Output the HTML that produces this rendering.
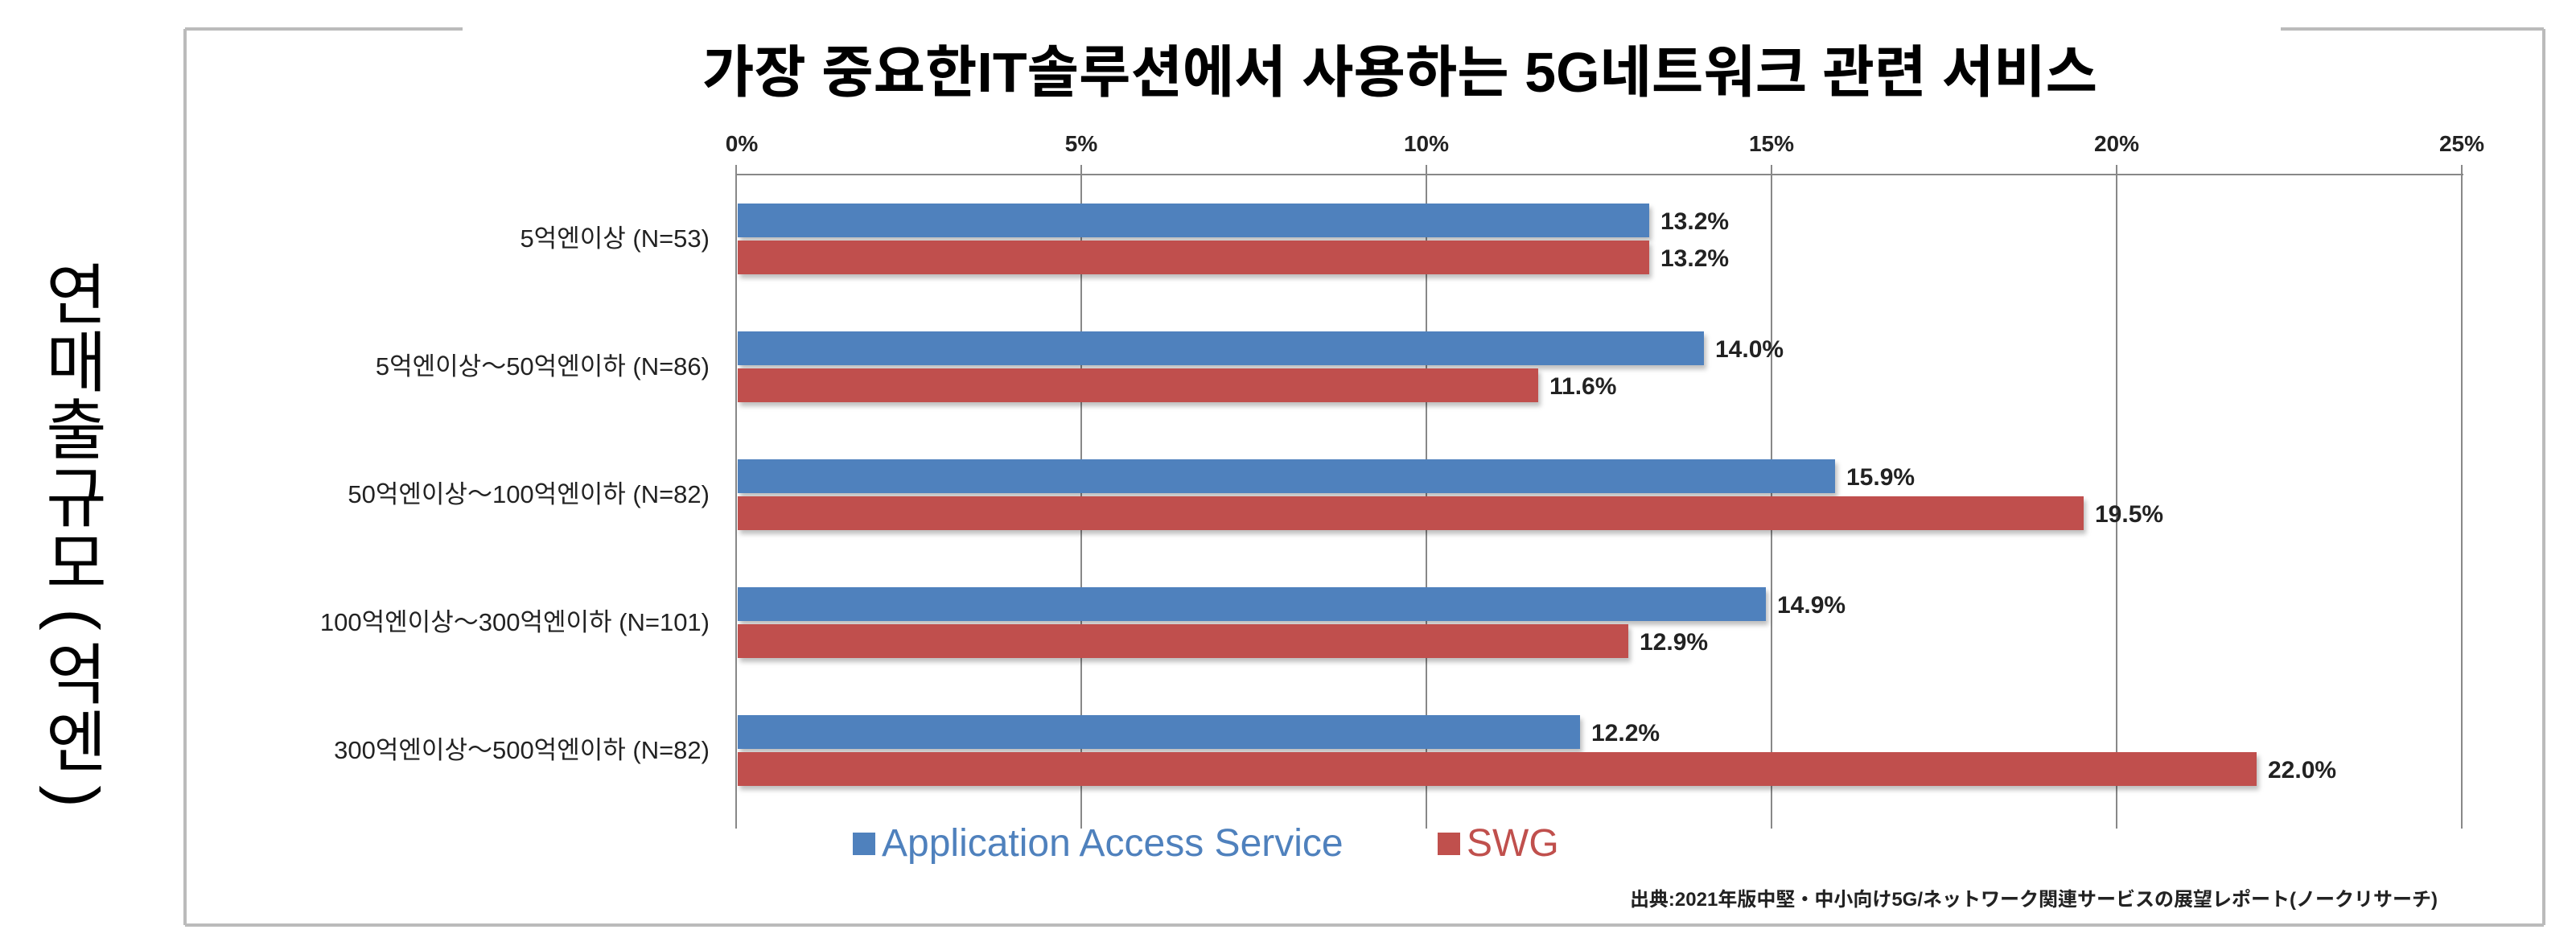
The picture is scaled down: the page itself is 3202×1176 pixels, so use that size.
<!DOCTYPE html>
<html><head><meta charset="utf-8"><style>
html,body{margin:0;padding:0;background:#fff;}
svg{display:block;}
text{font-family:"Liberation Sans","Noto Sans CJK KR",sans-serif;}
</style></head><body>
<svg width="3202" height="1176" viewBox="0 0 3202 1176" xmlns="http://www.w3.org/2000/svg">
<defs><filter id="sh" x="-5%" y="-20%" width="110%" height="160%"><feDropShadow dx="3" dy="5" stdDeviation="3" flood-color="#000" flood-opacity="0.25"/></filter></defs>
<g stroke="#bbb" stroke-width="4" fill="none">
<line x1="230" y1="36" x2="575" y2="36"/>
<line x1="2835" y1="36" x2="3162" y2="36"/>
<line x1="230" y1="36" x2="230" y2="1150"/>
<line x1="230" y1="1150" x2="3162" y2="1150"/>
<line x1="3162" y1="36" x2="3162" y2="1150"/>
</g>
<text x="1740" y="114" font-size="70" font-weight="bold" text-anchor="middle" fill="#000">가장 중요한IT솔루션에서 사용하는 5G네트워크 관련 서비스</text>
<g stroke="#888" stroke-width="2">
<line x1="915" y1="217" x2="3062" y2="217"/>
<line x1="915" y1="205" x2="915" y2="1030"/>
<line x1="1344" y1="205" x2="1344" y2="1030"/>
<line x1="1773" y1="205" x2="1773" y2="1030"/>
<line x1="2202" y1="205" x2="2202" y2="1030"/>
<line x1="2631" y1="205" x2="2631" y2="1030"/>
<line x1="3060" y1="205" x2="3060" y2="1030"/>
</g>
<g font-size="28" font-weight="bold" text-anchor="middle" fill="#222">
<text x="922" y="188">0%</text><text x="1344" y="188">5%</text><text x="1773" y="188">10%</text>
<text x="2202" y="188">15%</text><text x="2631" y="188">20%</text><text x="3060" y="188">25%</text>
</g>
<g filter="url(#sh)">
<rect x="917" y="253" width="1133" height="42" fill="#4f81bd"/>
<rect x="917" y="299" width="1133" height="42" fill="#c0504d"/>
<rect x="917" y="412" width="1201" height="42" fill="#4f81bd"/>
<rect x="917" y="458" width="995" height="42" fill="#c0504d"/>
<rect x="917" y="571" width="1364" height="42" fill="#4f81bd"/>
<rect x="917" y="617" width="1673" height="42" fill="#c0504d"/>
<rect x="917" y="730" width="1278" height="42" fill="#4f81bd"/>
<rect x="917" y="776" width="1107" height="42" fill="#c0504d"/>
<rect x="917" y="889" width="1047" height="42" fill="#4f81bd"/>
<rect x="917" y="935" width="1888" height="42" fill="#c0504d"/>
</g>
<g font-size="30" font-weight="bold" fill="#222">
<text x="2064" y="285">13.2%</text><text x="2064" y="331">13.2%</text>
<text x="2132" y="444">14.0%</text><text x="1926" y="490">11.6%</text>
<text x="2295" y="603">15.9%</text><text x="2604" y="649">19.5%</text>
<text x="2209" y="762">14.9%</text><text x="2038" y="808">12.9%</text>
<text x="1978" y="921">12.2%</text><text x="2819" y="967">22.0%</text>
</g>
<g font-size="31" text-anchor="end" fill="#222">
<text x="882" y="307">5억엔이상 (N=53)</text>
<text x="882" y="466">5억엔이상～50억엔이하 (N=86)</text>
<text x="882" y="625">50억엔이상～100억엔이하 (N=82)</text>
<text x="882" y="784">100억엔이상～300억엔이하 (N=101)</text>
<text x="882" y="943">300억엔이상～500억엔이하 (N=82)</text>
</g>
<rect x="1060" y="1035" width="28" height="28" fill="#4f81bd"/>
<text x="1096" y="1064" font-size="48" fill="#4f81bd">Application Access Service</text>
<rect x="1787" y="1035" width="28" height="28" fill="#c0504d"/>
<text x="1823" y="1064" font-size="48" fill="#c0504d">SWG</text>
<text x="3030" y="1126" font-size="24" font-weight="bold" text-anchor="end" fill="#222">出典:2021年版中堅・中小向け5G/ネットワーク関連サービスの展望レポート(ノークリサーチ)</text>
<g font-size="82" fill="#000" text-anchor="middle" dominant-baseline="central" font-family="'Noto Sans CJK KR',sans-serif">
<text x="95" y="368">연</text><text x="95" y="452">매</text><text x="95" y="536">출</text>
<text x="95" y="620">규</text><text x="95" y="702">모</text>
<text x="95" y="840">억</text><text x="95" y="924">엔</text>
</g>
<g font-size="82" fill="#000" text-anchor="middle" font-family="'Liberation Sans',sans-serif">
<text x="95" y="799" transform="rotate(90 95 770)">(</text>
<text x="95" y="1019" transform="rotate(90 95 990)">)</text>
</g>
</svg>
</body></html>
